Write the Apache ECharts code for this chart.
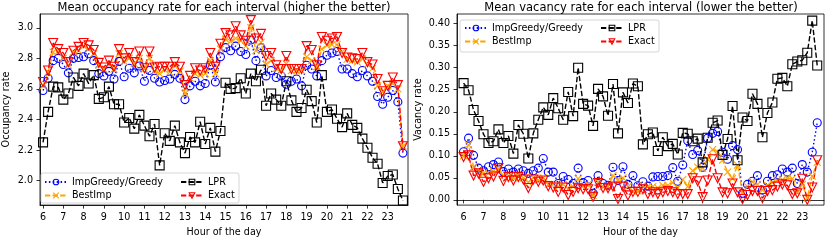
<!DOCTYPE html>
<html><head><meta charset="utf-8">
<script src="https://cdn.jsdelivr.net/npm/echarts@6/dist/echarts.min.js"></script>
<style>html,body{margin:0;padding:0;background:#fff}#c{width:830px;height:242px}</style>
</head><body><div id="c"></div>
<script>
const hours = [6,6.25,6.5,6.75,7,7.25,7.5,7.75,8,8.25,8.5,8.75,9,9.25,9.5,9.75,10,10.25,10.5,10.75,11,11.25,11.5,11.75,12,12.25,12.5,12.75,13,13.25,13.5,13.75,14,14.25,14.5,14.75,15,15.25,15.5,15.75,16,16.25,16.5,16.75,17,17.25,17.5,17.75,18,18.25,18.5,18.75,19,19.25,19.5,19.75,20,20.25,20.5,20.75,21,21.25,21.5,21.75,22,22.25,22.5,22.75,23,23.25,23.5,23.75];
const hourTicks = [6,7,8,9,10,11,12,13,14,15,16,17,18,19,20,21,22,23];
const occTicks = [2.0,2.2,2.4,2.6,2.8,3.0];
const vacTicks = [0,0.05,0.1,0.15,0.2,0.25,0.3,0.35,0.4];
const seriesNames = ['ImpGreedy/Greedy','BestImp','LPR','Exact'];

const occImpGreedy = [2.59,2.67,2.785,2.80,2.76,2.705,2.80,2.805,2.81,2.83,2.785,2.70,2.685,2.715,2.665,2.78,2.68,2.735,2.705,2.75,2.65,2.72,2.67,2.645,2.655,2.665,2.695,2.67,2.53,2.62,2.65,2.62,2.635,2.755,2.645,2.81,2.87,2.85,2.88,2.845,2.825,2.92,2.785,2.87,2.685,2.72,2.675,2.685,2.63,2.65,2.665,2.62,2.755,2.73,2.685,2.785,2.82,2.835,2.845,2.73,2.73,2.70,2.68,2.72,2.685,2.65,2.55,2.50,2.545,2.59,2.515,2.18];
const occBestImp = [2.62,2.71,2.84,2.845,2.80,2.755,2.84,2.85,2.88,2.86,2.83,2.755,2.73,2.765,2.73,2.83,2.78,2.80,2.765,2.80,2.73,2.80,2.715,2.70,2.725,2.71,2.755,2.715,2.57,2.67,2.70,2.69,2.70,2.785,2.70,2.86,2.925,2.91,2.93,2.915,2.88,3.00,2.85,2.905,2.76,2.785,2.735,2.72,2.765,2.72,2.72,2.72,2.81,2.785,2.745,2.86,2.885,2.89,2.89,2.84,2.795,2.785,2.775,2.795,2.76,2.735,2.62,2.58,2.62,2.635,2.60,2.225];
const occLPR = [2.25,2.45,2.615,2.61,2.53,2.57,2.675,2.62,2.70,2.635,2.69,2.535,2.545,2.615,2.50,2.50,2.38,2.41,2.34,2.43,2.36,2.29,2.37,2.10,2.31,2.26,2.36,2.25,2.18,2.285,2.25,2.385,2.24,2.345,2.19,2.325,2.64,2.60,2.605,2.67,2.57,2.70,2.65,2.725,2.49,2.57,2.53,2.49,2.65,2.525,2.45,2.475,2.595,2.52,2.38,2.69,2.45,2.465,2.405,2.35,2.44,2.365,2.345,2.275,2.215,2.15,2.11,1.985,2.03,2.04,1.945,1.87];
const occExact = [2.645,2.72,2.90,2.86,2.835,2.775,2.85,2.875,2.90,2.885,2.855,2.77,2.74,2.785,2.745,2.86,2.80,2.835,2.775,2.845,2.735,2.845,2.74,2.745,2.745,2.745,2.775,2.745,2.625,2.685,2.735,2.72,2.735,2.835,2.745,2.895,2.965,2.95,3.01,2.95,2.915,3.05,2.93,2.96,2.815,2.835,2.755,2.73,2.815,2.73,2.73,2.73,2.88,2.855,2.755,2.94,2.915,2.93,2.94,2.835,2.805,2.80,2.795,2.835,2.775,2.76,2.665,2.585,2.62,2.675,2.625,2.225];

const vacImpGreedy = [0.109,0.14,0.101,0.072,0.066,0.075,0.08,0.086,0.064,0.07,0.063,0.07,0.066,0.06,0.066,0.072,0.094,0.063,0.063,0.037,0.053,0.046,0.037,0.072,0.039,0.044,0.015,0.055,0.037,0.033,0.074,0.044,0.075,0.035,0.055,0.032,0.041,0.031,0.052,0.053,0.053,0.055,0.073,0.042,0.079,0.134,0.103,0.112,0.074,0.14,0.151,0.155,0.108,0.092,0.123,0.114,0.015,0.035,0.042,0.055,0.022,0.042,0.055,0.057,0.07,0.063,0.072,0.037,0.08,0.063,0.108,0.175];
const vacBestImp = [0.1,0.125,0.075,0.065,0.06,0.06,0.065,0.07,0.055,0.055,0.05,0.055,0.05,0.04,0.05,0.045,0.05,0.035,0.035,0.03,0.035,0.025,0.03,0.048,0.03,0.035,0.01,0.04,0.03,0.03,0.055,0.045,0.05,0.03,0.02,0.02,0.033,0.03,0.03,0.027,0.033,0.033,0.039,0.027,0.046,0.03,0.066,0.074,0.072,0.092,0.114,0.108,0.09,0.063,0.048,0.079,0.017,0.03,0.041,0.035,0.022,0.033,0.039,0.044,0.046,0.049,0.048,0.017,0.035,0.004,0.054,0.085];
const vacLPR = [0.265,0.249,0.204,0.179,0.149,0.129,0.133,0.16,0.129,0.145,0.105,0.17,0.15,0.094,0.151,0.182,0.21,0.193,0.231,0.208,0.182,0.245,0.19,0.30,0.218,0.214,0.168,0.252,0.235,0.191,0.263,0.151,0.244,0.22,0.264,0.258,0.126,0.149,0.153,0.111,0.142,0.122,0.127,0.103,0.152,0.15,0.133,0.139,0.085,0.141,0.175,0.18,0.102,0.138,0.213,0.09,0.187,0.179,0.241,0.218,0.142,0.197,0.221,0.275,0.277,0.258,0.308,0.314,0.317,0.334,0.407,0.305];
const vacExact = [0.097,0.101,0.055,0.06,0.041,0.049,0.053,0.072,0.043,0.052,0.044,0.052,0.046,0.027,0.046,0.041,0.044,0.031,0.028,0.018,0.028,0.011,0.018,0.026,0.024,0.024,0.007,0.038,0.027,0.026,0.03,0.002,0.03,0.01,0.018,0.018,0.024,0.013,0.017,0.013,0.017,0.02,0.017,0.013,0.013,0.013,0.049,0.042,0.006,0.044,0.092,0.049,0.017,0.015,0.037,0.017,0.002,0.011,0.02,0.02,0.004,0.02,0.022,0.03,0.035,0.033,0.013,0.015,0.048,0.0,0.028,0.09];

const FONT = 'DejaVu Sans';
const FS = 9.6;
const styles = {
  'ImpGreedy/Greedy': {color:'#0000ff', symbol:'circle', size:8, dash:[1.5,2.4]},
  'BestImp': {color:'#ffa500', symbol:'path://M0,0L10,10M10,0L0,10', size:7, dash:[5.3,2.3]},
  'LPR': {color:'#000000', symbol:'rect', size:9, dash:[5.3,2.3]},
  'Exact': {color:'#ff0000', symbol:'triangle', size:9, dash:[5.3,2.3], rotate:180}
};
function mk(name, data, idx){
  const s = styles[name];
  return {
    name, type:'line', xAxisIndex:idx, yAxisIndex:idx,
    data: hours.map((h,i)=>[h,data[i]]),
    symbol:s.symbol, symbolSize:s.size, symbolRotate:s.rotate||0, showSymbol:true,
    lineStyle:{color:s.color, width:1.4, type:s.dash},
    itemStyle:{color:'transparent', borderColor:s.color, borderWidth:1.1},
    emphasis:{disabled:true}, animation:false, silent:true
  };
}
function xAx(idx,min,max){
  return {type:'value', gridIndex:idx, min, max,
    name:'Hour of the day', nameLocation:'middle', nameGap:20,
    nameTextStyle:{fontFamily:FONT,fontSize:FS,color:'#000'},
    axisLine:{show:true,lineStyle:{color:'#000',width:0.8}},
    axisTick:{show:true,length:3.5,lineStyle:{color:'#000',width:0.8},customValues:hourTicks},
    axisLabel:{fontFamily:FONT,fontSize:FS,color:'#000',margin:7,customValues:hourTicks,formatter:v=>String(v)},
    splitLine:{show:false}};
}
function yAx(idx,min,max,ticks,dec,name,gap){
  return {type:'value', gridIndex:idx, min, max,
    name, nameLocation:'middle', nameGap:gap,
    nameTextStyle:{fontFamily:FONT,fontSize:FS,color:'#000'},
    axisLine:{show:true,lineStyle:{color:'#000',width:0.8}},
    axisTick:{show:true,length:3.5,lineStyle:{color:'#000',width:0.8},customValues:ticks},
    axisLabel:{fontFamily:FONT,fontSize:FS,color:'#000',margin:7,customValues:ticks,formatter:v=>v.toFixed(dec)},
    splitLine:{show:false}};
}
function leg(left,top,names){
  return {left,top,orient:'vertical',itemWidth:22,itemHeight:7,itemGap:3.5,padding:0,
    data: names.map(n=>({name:n, itemStyle:{color:'transparent', borderColor:styles[n].color, borderWidth:1.1}})),
    textStyle:{fontFamily:FONT,fontSize:FS,color:'#000'},selectedMode:false};
}
const chart = echarts.init(document.getElementById('c'),null,{renderer:'canvas'});
chart.setOption({
  animation:false,
  title:[
    {text:'Mean occupancy rate for each interval (higher the better)',left:224,top:2,textAlign:'center',padding:0,
     textStyle:{fontFamily:FONT,fontSize:11.5,fontWeight:'normal',color:'#000'}},
    {text:'Mean vacancy rate for each interval (lower the better)',left:641,top:2,textAlign:'center',padding:0,
     textStyle:{fontFamily:FONT,fontSize:11.5,fontWeight:'normal',color:'#000'}}
  ],
  grid:[
    {left:40,right:422,top:14,bottom:33,show:true,borderColor:'#000',borderWidth:0.8,containLabel:false},
    {left:457,right:6,top:14,bottom:32,show:true,borderColor:'#000',borderWidth:0.8,containLabel:false}
  ],
  xAxis:[xAx(0,5.85,24.0), xAx(1,5.67,24.09)],
  yAxis:[yAx(0,1.84,3.09,occTicks,1,'Occupancy rate',29), yAx(1,-0.012,0.422,vacTicks,2,'Vacancy rate',34)],
  legend:[
    leg(44,177,['ImpGreedy/Greedy','BestImp']),
    leg(180,177,['LPR','Exact']),
    leg(464,23,['ImpGreedy/Greedy','BestImp']),
    leg(600,23,['LPR','Exact'])
  ],
  graphic:[
    {type:'rect',z:3,shape:{x:41,y:173,width:198,height:30,r:2},style:{fill:'rgba(255,255,255,0.8)',stroke:'#cccccc',lineWidth:0.8}},
    {type:'rect',z:3,shape:{x:460,y:20,width:199,height:32,r:2},style:{fill:'rgba(255,255,255,0.8)',stroke:'#cccccc',lineWidth:0.8}}
  ],
  series:[
    mk('ImpGreedy/Greedy',occImpGreedy,0), mk('BestImp',occBestImp,0), mk('LPR',occLPR,0), mk('Exact',occExact,0),
    mk('ImpGreedy/Greedy',vacImpGreedy,1), mk('BestImp',vacBestImp,1), mk('LPR',vacLPR,1), mk('Exact',vacExact,1)
  ]
});
</script></body></html>
